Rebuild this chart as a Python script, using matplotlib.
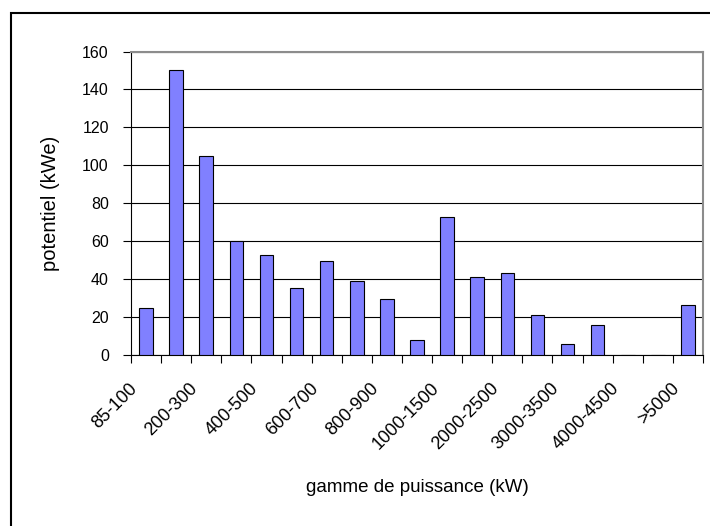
import numpy as np
import matplotlib
matplotlib.use("Agg")
import matplotlib.pyplot as plt
from matplotlib.patches import Rectangle
from matplotlib.transforms import ScaledTranslation

plt.rcParams['font.family'] = ['Liberation Sans', 'DejaVu Sans']

# power ranges (kW) - one label shown every second category
categories = ['85-100', '100-200', '200-300', '300-400', '400-500', '500-600',
              '600-700', '700-800', '800-900', '900-1000', '1000-1500',
              '1500-2000', '2000-2500', '2500-3000', '3000-3500', '3500-4000',
              '4000-4500', '4500-5000', '>5000']
# potential (kWe)
potentiel = [25, 150, 105, 60, 52.5, 35.5, 49.5, 38.8, 29.5, 8, 72.5,
             41, 43, 21, 6, 15.7, 0, 0, 26.2]
y_ticks = [0, 20, 40, 60, 80, 100, 120, 140, 160]

fig = plt.figure(figsize=(7.1, 5.26), dpi=100)
ax = fig.add_axes([131 / 710, 171 / 526, 572 / 710, 303.5 / 526])

x = np.arange(len(categories))
ax.bar(x, potentiel, width=0.45, color='#8080FF', edgecolor='black',
       linewidth=0.8, zorder=3)

ax.set_xlim(-0.5, len(categories) - 0.5)
ax.set_ylim(0, 160)
ax.set_yticks(y_ticks)
ax.set_yticklabels([str(v) for v in y_ticks], fontsize=11.5)
ax.yaxis.grid(True, color='black', linewidth=0.8)
ax.set_axisbelow(True)

# tick marks between categories, labels on every other category
ax.set_xticks(np.arange(-0.5, len(categories), 1.0), minor=True)
ax.set_xticks(x[::2])
ax.set_xticklabels(categories[::2], fontsize=13, rotation=45,
                   ha='right', va='top', rotation_mode='anchor')
ax.tick_params(axis='x', which='major', length=0, pad=18)
ax.tick_params(axis='x', which='minor', length=6, width=0.8, color='black')
ax.tick_params(axis='y', length=6, width=0.8, color='black', pad=10)
shift = ScaledTranslation(-0.17, 0, fig.dpi_scale_trans)
for lab in ax.get_xticklabels():
    lab.set_transform(lab.get_transform() + shift)

for side in ['left', 'bottom']:
    ax.spines[side].set_color('black')
    ax.spines[side].set_linewidth(0.8)
for side in ['top', 'right']:
    ax.spines[side].set_color('#8c8c8c')
    ax.spines[side].set_linewidth(1.5)

fig.text(51 / 710, 1 - 203 / 526, 'potentiel (kWe)', rotation=90,
         ha='center', va='center', fontsize=14.5)
fig.text(417 / 710, 1 - 487 / 526, 'gamme de puissance (kW)',
         ha='center', va='center', fontsize=13.5)

# chart area border (cropped on the right and bottom)
fig.add_artist(Rectangle((11 / 710, -0.05), 1.1, 1 - 13 / 526 + 0.05,
                         fill=False, edgecolor='black', linewidth=1.5,
                         transform=fig.transFigure))

fig.savefig('out.png', dpi=100)
